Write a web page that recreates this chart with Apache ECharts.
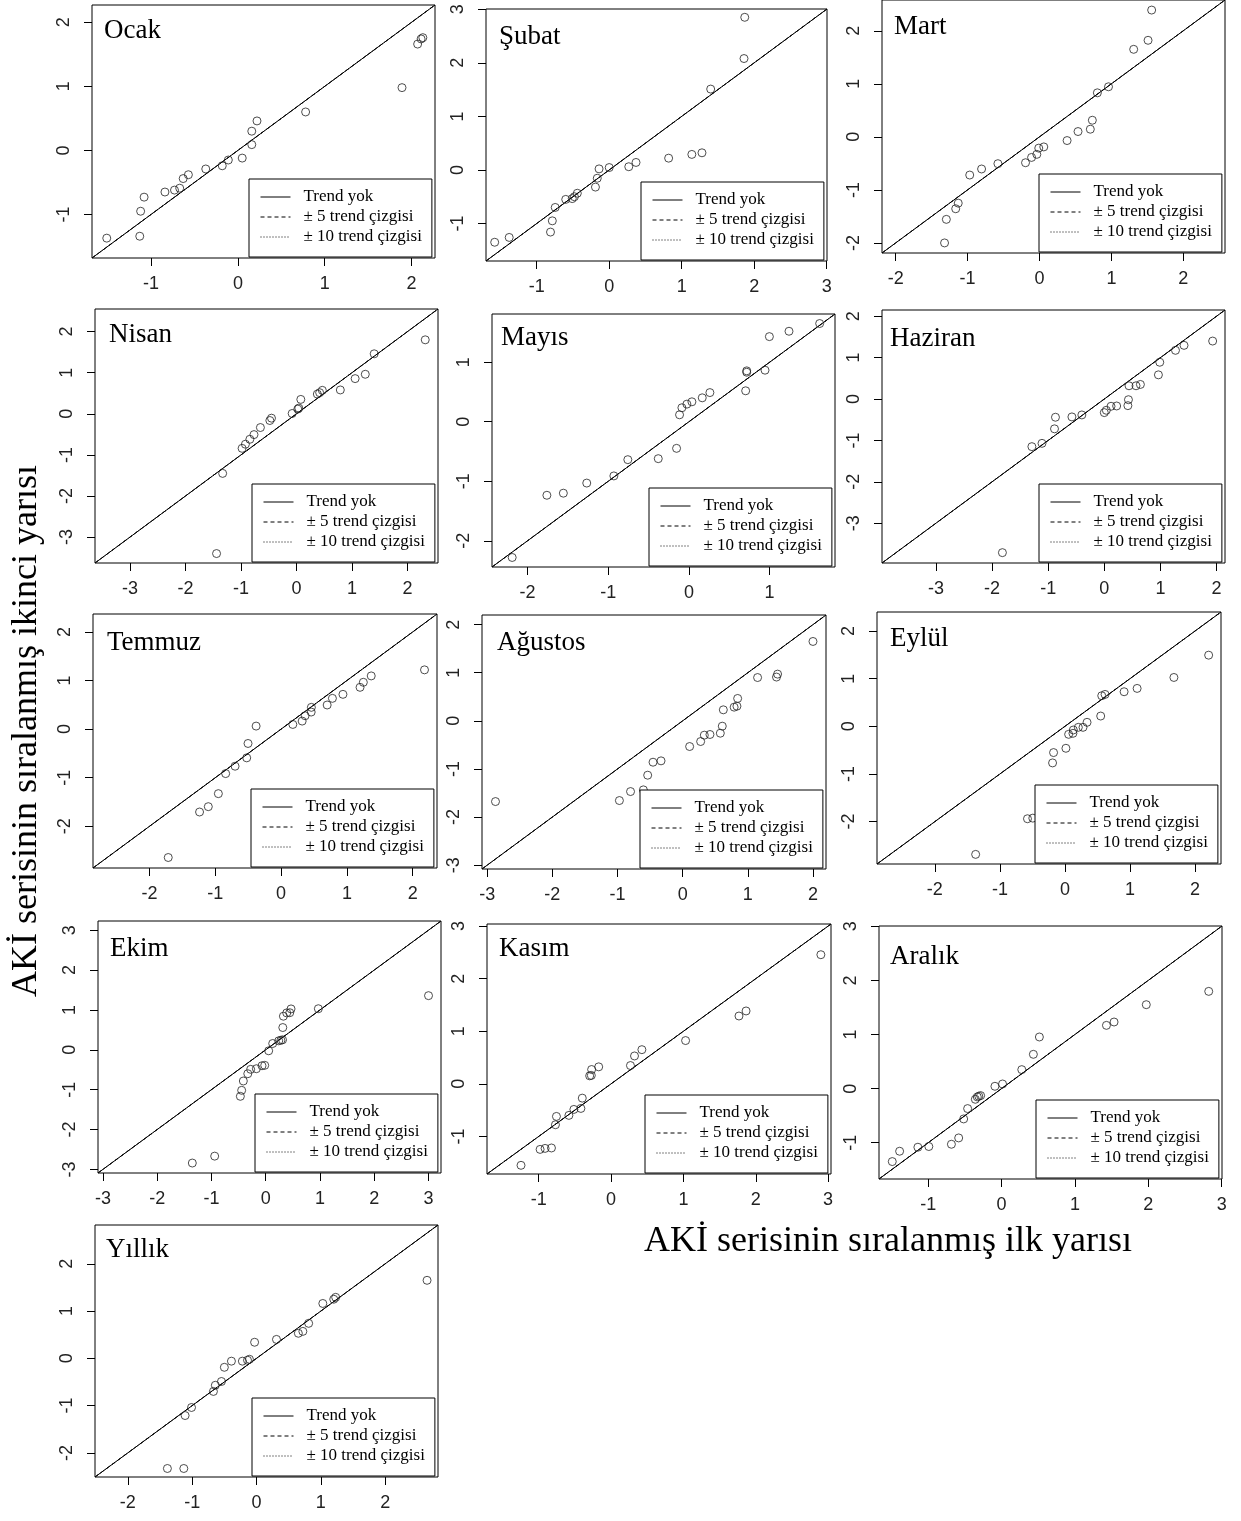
<!DOCTYPE html>
<html>
<head>
<meta charset="utf-8">
<script src="https://cdn.jsdelivr.net/npm/echarts@6/dist/echarts.min.js"></script>
<style>
  html, body { margin: 0; padding: 0; background: #fff; }
  #chart { width: 1241px; height: 1521px; }
</style>
</head>
<body>
<div id="chart"></div>
<script>
// sıralanmış ilk yarı (x) / sıralanmış ikinci yarı (y)
var ocakIlk = [-1.51, -1.13, -1.12, -1.08, -0.84, -0.73, -0.67, -0.63, -0.57, -0.37, -0.18, -0.11, 0.05, 0.16, 0.16, 0.22, 0.78, 1.89, 2.07, 2.11, 2.13];
var ocakIkinci = [-1.37, -1.34, -0.95, -0.73, -0.65, -0.62, -0.59, -0.44, -0.38, -0.29, -0.24, -0.15, -0.12, 0.09, 0.30, 0.46, 0.60, 0.98, 1.66, 1.74, 1.76];

var subatIlk = [-1.58, -1.38, -0.81, -0.785, -0.745, -0.60, -0.51, -0.48, -0.44, -0.19, -0.165, -0.14, 0.00, 0.27, 0.37, 0.82, 1.14, 1.28, 1.40, 1.86, 1.87];
var subatIkinci = [-1.35, -1.26, -1.16, -0.95, -0.70, -0.55, -0.535, -0.50, -0.435, -0.32, -0.155, 0.02, 0.045, 0.06, 0.14, 0.22, 0.29, 0.32, 1.51, 2.08, 2.85];

var martIlk = [-1.32, -1.295, -1.165, -1.13, -0.97, -0.805, -0.578, -0.194, -0.11, -0.037, -0.01, 0.06, 0.384, 0.536, 0.707, 0.735, 0.805, 0.96, 1.31, 1.51, 1.56];
var martIkinci = [-2.0, -1.556, -1.356, -1.25, -0.72, -0.606, -0.506, -0.488, -0.388, -0.33, -0.213, -0.19, -0.07, 0.10, 0.144, 0.313, 0.83, 0.944, 1.65, 1.82, 2.39];

var nisanIlk = [-1.44, -1.33, -0.98, -0.92, -0.84, -0.765, -0.65, -0.48, -0.45, -0.078, 0.024, 0.042, 0.078, 0.376, 0.418, 0.466, 0.79, 1.057, 1.24, 1.40, 2.32];
var nisanIkinci = [-3.40, -1.45, -0.84, -0.74, -0.62, -0.506, -0.334, -0.163, -0.106, 0.008, 0.114, 0.139, 0.35, 0.48, 0.514, 0.571, 0.58, 0.856, 0.962, 1.46, 1.80];

var mayisIlk = [-2.19, -1.76, -1.556, -1.266, -0.93, -0.757, -0.38, -0.153, -0.116, -0.087, -0.025, 0.037, 0.165, 0.26, 0.703, 0.716, 0.716, 0.943, 0.997, 1.24, 1.62];
var mayisIkinci = [-2.28, -1.235, -1.20, -1.03, -0.91, -0.637, -0.62, -0.447, 0.117, 0.235, 0.296, 0.335, 0.402, 0.49, 0.52, 0.832, 0.855, 0.866, 1.43, 1.52, 1.65];

var haziranIlk = [-1.815, -1.29, -1.11, -0.887, -0.87, -0.577, -0.40, 0.0, 0.036, 0.12, 0.22, 0.42, 0.43, 0.44, 0.565, 0.643, 0.964, 0.988, 1.268, 1.42, 1.93];
var haziranIkinci = [-3.71, -1.15, -1.07, -0.72, -0.44, -0.432, -0.384, -0.328, -0.272, -0.175, -0.168, -0.16, -0.016, 0.32, 0.32, 0.352, 0.584, 0.888, 1.176, 1.296, 1.40];

var temmuzIlk = [-1.716, -1.24, -1.107, -0.954, -0.843, -0.70, -0.523, -0.503, -0.38, 0.178, 0.32, 0.365, 0.457, 0.46, 0.70, 0.78, 0.94, 1.20, 1.25, 1.37, 2.18];
var temmuzIkinci = [-2.644, -1.707, -1.597, -1.329, -0.916, -0.764, -0.592, -0.296, 0.062, 0.096, 0.165, 0.275, 0.351, 0.448, 0.496, 0.633, 0.716, 0.86, 0.964, 1.095, 1.22];

var agustosIlk = [-2.873, -0.971, -0.80, -0.603, -0.537, -0.455, -0.332, 0.107, 0.276, 0.332, 0.419, 0.578, 0.608, 0.624, 0.79, 0.833, 0.844, 1.15, 1.44, 1.457, 2.0];
var agustosIkinci = [-1.678, -1.657, -1.47, -1.435, -1.13, -0.86, -0.832, -0.534, -0.43, -0.298, -0.284, -0.257, -0.111, 0.229, 0.284, 0.305, 0.465, 0.90, 0.91, 0.971, 1.65];

var eylulIlk = [-1.373, -0.576, -0.494, -0.19, -0.175, 0.015, 0.057, 0.123, 0.129, 0.206, 0.278, 0.34, 0.55, 0.566, 0.617, 0.91, 1.11, 1.676, 2.21];
var eylulIkinci = [-2.688, -1.94, -1.927, -0.768, -0.551, -0.461, -0.168, -0.147, -0.077, -0.021, -0.021, 0.084, 0.216, 0.642, 0.67, 0.726, 0.796, 1.026, 1.494];

var ekimIlk = [-1.352, -0.94, -0.467, -0.443, -0.412, -0.33, -0.277, -0.172, -0.068, -0.018, 0.055, 0.129, 0.24, 0.28, 0.31, 0.315, 0.326, 0.387, 0.443, 0.467, 0.97, 3.0];
var ekimIkinci = [-2.84, -2.667, -1.167, -1.017, -0.783, -0.60, -0.49, -0.475, -0.40, -0.39, -0.025, 0.158, 0.225, 0.24, 0.25, 0.558, 0.842, 0.925, 0.93, 1.025, 1.03, 1.358];

var kasimIlk = [-1.245, -0.981, -0.912, -0.824, -0.769, -0.755, -0.583, -0.514, -0.417, -0.398, -0.296, -0.273, -0.269, -0.171, 0.268, 0.324, 0.426, 1.03, 1.768, 1.866, 2.90];
var kasimIkinci = [-1.55, -1.247, -1.228, -1.22, -0.778, -0.62, -0.60, -0.487, -0.468, -0.272, 0.152, 0.16, 0.272, 0.323, 0.348, 0.53, 0.65, 0.823, 1.29, 1.386, 2.456];

var aralikIlk = [-1.489, -1.389, -1.14, -0.991, -0.683, -0.584, -0.516, -0.462, -0.357, -0.33, -0.31, -0.285, -0.09, 0.014, 0.276, 0.434, 0.516, 1.43, 1.534, 1.973, 2.824];
var aralikIkinci = [-1.348, -1.157, -1.083, -1.07, -1.028, -0.911, -0.56, -0.369, -0.197, -0.154, -0.14, -0.129, 0.043, 0.086, 0.351, 0.634, 0.954, 1.169, 1.231, 1.551, 1.797];

var yillikIlk = [-1.385, -1.13, -1.11, -1.01, -0.67, -0.64, -0.545, -0.50, -0.39, -0.22, -0.14, -0.11, -0.03, 0.31, 0.65, 0.72, 0.81, 1.03, 1.20, 1.23, 2.65];
var yillikIkinci = [-2.33, -2.33, -1.21, -1.04, -0.70, -0.57, -0.49, -0.19, -0.06, -0.06, -0.04, -0.02, 0.34, 0.40, 0.53, 0.57, 0.74, 1.16, 1.25, 1.29, 1.65];

// eksen işaretleri
var ticksA = [-1, 0, 1, 2];
var ticksB = [-1, 0, 1, 2, 3];
var ticksC = [-2, -1, 0, 1, 2];
var ticksD = [-3, -2, -1, 0, 1, 2];
var ticksE = [-2, -1, 0, 1];
var ticksF = [-3, -2, -1, 0, 1, 2, 3];

var legendNames = ["Trend yok", "± 5 trend çizgisi", "± 10 trend çizgisi"];
var lineTypes = ["solid", [4, 3], [1, 2]];

var xTitle = "AKİ serisinin sıralanmış ilk yarısı";
var yTitle = "AKİ serisinin sıralanmış ikinci yarısı";

// box: [left, top, width, height], title: [left, capTop]
var panels = [
  { name: "Ocak", x: ocakIlk, y: ocakIkinci, lim: [-1.68, 2.27], ticks: ticksA, box: [92, 5, 343, 253], title: [105, 22] },
  { name: "Şubat", x: subatIlk, y: subatIkinci, lim: [-1.70, 3.005], ticks: ticksB, box: [486, 9, 341, 252], title: [500, 28] },
  { name: "Mart", x: martIlk, y: martIkinci, lim: [-2.19, 2.58], ticks: ticksC, box: [882, 0, 343, 253], title: [895, 18] },
  { name: "Nisan", x: nisanIlk, y: nisanIkinci, lim: [-3.63, 2.55], ticks: ticksD, box: [95, 309, 343, 254], title: [110, 326] },
  { name: "Mayıs", x: mayisIlk, y: mayisIkinci, lim: [-2.44, 1.81], ticks: ticksE, box: [492, 314, 343, 253], title: [502, 329] },
  { name: "Haziran", x: haziranIlk, y: haziranIkinci, lim: [-3.96, 2.15], ticks: ticksD, box: [882, 310, 343, 253], title: [891, 330] },
  { name: "Temmuz", x: temmuzIlk, y: temmuzIkinci, lim: [-2.86, 2.37], ticks: ticksC, box: [93, 614, 344, 254], title: [108, 634] },
  { name: "Ağustos", x: agustosIlk, y: agustosIkinci, lim: [-3.08, 2.20], ticks: ticksD, box: [482, 615, 344, 254], title: [498, 634] },
  { name: "Eylül", x: eylulIlk, y: eylulIkinci, lim: [-2.89, 2.40], ticks: ticksC, box: [877, 612, 344, 252], title: [891, 630] },
  { name: "Ekim", x: ekimIlk, y: ekimIkinci, lim: [-3.09, 3.23], ticks: ticksF, box: [98, 921, 343, 252], title: [111, 940] },
  { name: "Kasım", x: kasimIlk, y: kasimIkinci, lim: [-1.715, 3.04], ticks: ticksB, box: [487, 924, 344, 250], title: [500, 940] },
  { name: "Aralık", x: aralikIlk, y: aralikIkinci, lim: [-1.67, 3.005], ticks: ticksB, box: [879, 926, 343, 253], title: [891, 948] },
  { name: "Yıllık", x: yillikIlk, y: yillikIkinci, lim: [-2.51, 2.82], ticks: ticksC, box: [95, 1225, 343, 252], title: [107, 1241] }
];

var chart = echarts.init(document.getElementById("chart"));

var grids = [], xAxes = [], yAxes = [], series = [], titles = [], legends = [];
var labelFont = { fontFamily: "Liberation Sans", fontSize: 18, color: "#222" };

panels.forEach(function (p, i) {
  var b = p.box;
  grids.push({
    left: b[0], top: b[1], width: b[2], height: b[3],
    show: true, borderColor: "#000", borderWidth: 1, backgroundColor: "transparent"
  });
  xAxes.push({
    gridIndex: i, type: "value", min: p.lim[0], max: p.lim[1],
    axisLine: { show: false, onZero: false },
    splitLine: { show: false },
    axisTick: { show: true, length: 8, lineStyle: { color: "#000" }, customValues: p.ticks },
    axisLabel: Object.assign({ customValues: p.ticks, margin: 17 }, labelFont)
  });
  yAxes.push({
    gridIndex: i, type: "value", min: p.lim[0], max: p.lim[1],
    axisLine: { show: false, onZero: false },
    splitLine: { show: false },
    axisTick: { show: true, length: 8, lineStyle: { color: "#000" }, customValues: p.ticks },
    axisLabel: Object.assign({ customValues: p.ticks, margin: 19, rotate: 90 }, labelFont)
  });

  // 1:1 doğrusu ve trend çizgileri
  legendNames.forEach(function (nm, k) {
    series.push({
      name: nm, type: "line", xAxisIndex: i, yAxisIndex: i,
      data: [[p.lim[0], p.lim[0]], [p.lim[1], p.lim[1]]],
      symbol: "none", silent: true, z: 2 - k * 0.1,
      lineStyle: { color: "#000", width: 1, type: lineTypes[k] },
      itemStyle: { color: "#000" },
      emphasis: { disabled: true }
    });
  });

  series.push({
    type: "scatter", xAxisIndex: i, yAxisIndex: i,
    data: p.x.map(function (v, k) { return [v, p.y[k]]; }),
    symbol: "circle", symbolSize: 8, z: 3, silent: true,
    itemStyle: { color: "transparent", borderColor: "#222", borderWidth: 1 },
    emphasis: { disabled: true }
  });

  titles.push({
    text: p.name, left: p.title[0] - 1, top: p.title[1] - 5, padding: 0,
    textStyle: { fontFamily: "Liberation Serif", fontSize: 27, fontWeight: "normal", color: "#000" }
  });

  legends.push({
    data: legendNames, orient: "vertical",
    left: b[0] + b[2] - 186, top: b[1] + b[3] - 79,
    padding: [8, 10, 10, 11], itemGap: 0, itemWidth: 30, itemHeight: 14,
    borderColor: "#000", borderWidth: 1, borderRadius: 0, backgroundColor: "#fff",
    selectedMode: false,
    itemStyle: { opacity: 0 },
    lineStyle: { opacity: 1, color: "#000", width: 1 },
    textStyle: { fontFamily: "Liberation Serif", fontSize: 17, color: "#000", lineHeight: 20, padding: [0, 0, 0, 8] }
  });
});

var option = {
  backgroundColor: "#fff",
  animation: false,
  title: titles,
  legend: legends,
  grid: grids,
  xAxis: xAxes,
  yAxis: yAxes,
  series: series,
  graphic: [
    {
      type: "text", x: 888, y: 1242,
      style: { text: xTitle, font: "36px 'Liberation Serif'", fill: "#000", textAlign: "center", textVerticalAlign: "middle" }
    },
    {
      type: "text", x: 27, y: 731, rotation: Math.PI / 2,
      style: { text: yTitle, font: "36px 'Liberation Serif'", fill: "#000", textAlign: "center", textVerticalAlign: "middle" }
    }
  ]
};

chart.setOption(option);
</script>
</body>
</html>
